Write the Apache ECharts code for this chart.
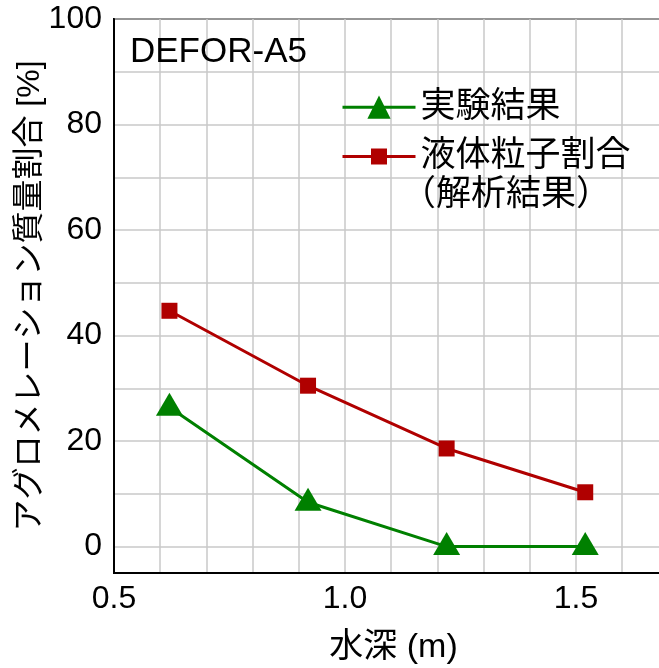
<!DOCTYPE html>
<html><head><meta charset="utf-8">
<script src="https://cdn.jsdelivr.net/npm/echarts@6/dist/echarts.min.js"></script>
<style>html,body{margin:0;padding:0;background:#fff}#c{width:659px;height:668px}</style>
</head><body><div id="c"></div>
<script>
const depths = [0.62, 0.92, 1.22, 1.52];
const experiment = [26.4, 8.4, 0, 0];
const liquidRatio = [44.7, 30.5, 18.6, 10.3];
const seriesNames = ['実験結果', '液体粒子割合'];
const noteText = '（解析結果）';
const panelTitle = 'DEFOR-A5';
const xName = '水深 (m)';
const yName = 'アグロメレーション質量割合 [%]';
const xTickLabels = [0.5, 1.0, 1.5];
const yTickLabels = [0, 20, 40, 60, 80, 100];

const FONT = "'Liberation Sans', 'Noto Sans CJK JP', sans-serif";
const chart = echarts.init(document.getElementById('c'), null, {renderer: 'canvas'});
const pair = (xs, ys) => xs.map((x, i) => [x, ys[i]]);
const near = (v, arr) => arr.some(t => Math.abs(t - v) < 1e-6);
const GREEN = '#008000', RED = '#b00000';

const option = {
  animation: false,
  backgroundColor: '#fff',
  textStyle: {fontFamily: FONT},
  title: [
    {text: panelTitle, left: 130, top: 35, padding: 0,
     textStyle: {fontSize: 35, fontWeight: 'normal', color: '#000', lineHeight: 35, fontFamily: FONT}},
    {text: noteText, left: 401, top: 178, padding: 0,
     textStyle: {fontSize: 35, fontWeight: 'normal', color: '#000', lineHeight: 35, fontFamily: FONT}}
  ],
  legend: [
    {data: [seriesNames[0]], orient: 'vertical', left: 341, top: 89.7, padding: 0,
     itemWidth: 73, itemHeight: 29, lineStyle: {width: 3},
     textStyle: {fontSize: 35, lineHeight: 34, color: '#000', fontFamily: FONT}},
    {data: [seriesNames[1]], orient: 'vertical', left: 341, top: 139, padding: 0,
     itemWidth: 73, itemHeight: 20, lineStyle: {width: 3},
     textStyle: {fontSize: 35, lineHeight: 34, color: '#000', fontFamily: FONT}}
  ],
  grid: {left: 114, right: -2, top: 19, bottom: 95, show: true, borderColor: '#000', borderWidth: 2,
         outerBoundsMode: 'none', containLabel: false},
  xAxis: {
    type: 'value', min: 0.5, max: 1.684, interval: 0.1,
    name: xName, nameLocation: 'middle', nameGap: 58, nameMoveOverlap: false,
    nameTextStyle: {fontSize: 34, lineHeight: 34, color: '#000', fontFamily: FONT, padding: [0, 0, 0, 12]},
    axisLine: {onZero: false, lineStyle: {color: '#000', width: 2}},
    axisTick: {show: false},
    axisLabel: {fontSize: 32, color: '#000', margin: 10, fontFamily: FONT,
      formatter: v => near(v, xTickLabels) ? v.toFixed(1) : ''},
    splitLine: {show: true, lineStyle: {color: '#c8c8c8', width: 1.5}}
  },
  yAxis: {
    type: 'value', min: -5, max: 100, interval: 5,
    name: yName, nameLocation: 'middle', nameGap: 68, nameRotate: 90, nameMoveOverlap: false,
    nameTextStyle: {fontSize: 32, lineHeight: 32, color: '#000', fontFamily: FONT},
    axisLine: {lineStyle: {color: '#000', width: 2}},
    axisTick: {show: false},
    axisLabel: {fontSize: 32, color: '#000', margin: 12, fontFamily: FONT,
      formatter: v => near(v, yTickLabels) ? String(Math.round(v)) : ''},
    splitLine: {show: true, lineStyle: {color: ['rgba(0,0,0,0)', '#c8c8c8'], width: 1.5}}
  },
  series: [
    {name: seriesNames[0], type: 'line', data: pair(depths, experiment),
     symbol: 'triangle', symbolSize: [27, 23], symbolOffset: [0, -3],
     lineStyle: {color: GREEN, width: 3}, itemStyle: {color: GREEN}, z: 3},
    {name: seriesNames[1], type: 'line', data: pair(depths, liquidRatio),
     symbol: 'rect', symbolSize: 16,
     lineStyle: {color: RED, width: 3}, itemStyle: {color: RED}, z: 3}
  ]
};
chart.setOption(option);
</script></body></html>
